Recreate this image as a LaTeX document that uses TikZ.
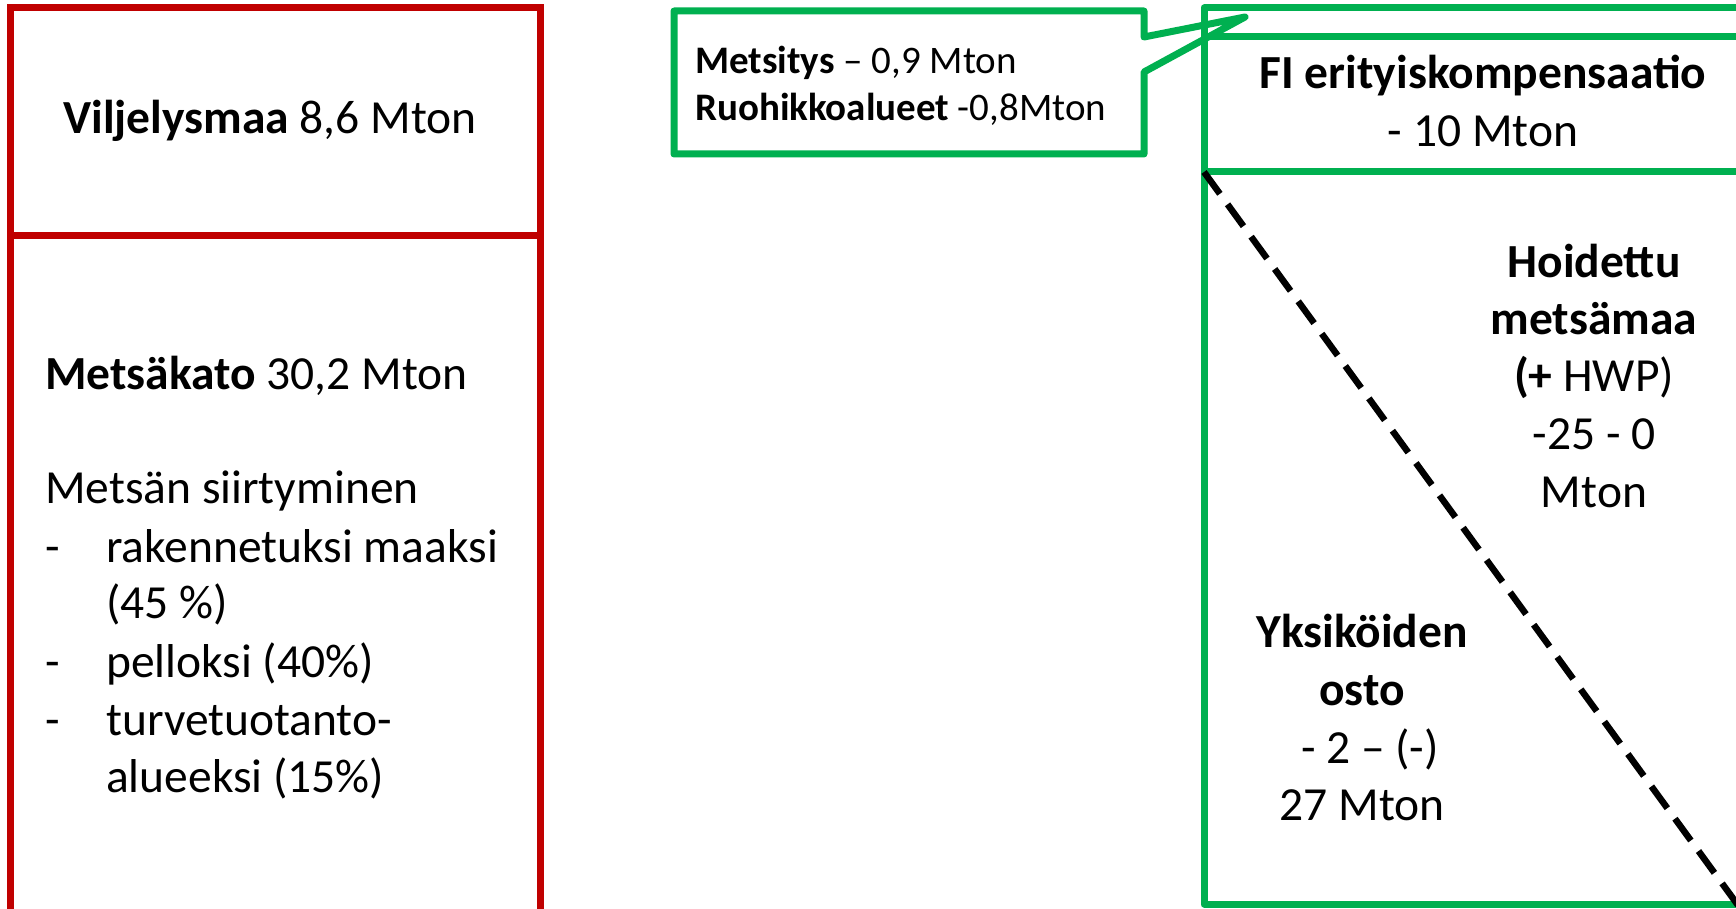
\documentclass[tikz,border=0pt]{standalone}
\usepackage{fontspec}
\setmainfont{Carlito}
\definecolor{redc}{HTML}{C00000}
\definecolor{greenc}{HTML}{00B050}
\begin{document}
\begin{tikzpicture}[x=1pt,y=-1pt,
  redln/.style={draw=redc, line width=7pt},
  grn/.style={draw=greenc, line width=7pt, line join=round},
  big/.style={font=\fontsize{47.5}{57}\selectfont, inner sep=0pt, text height=0.62em, text depth=0.0em},
  small/.style={font=\fontsize{39}{46}\selectfont, inner sep=0pt, text height=0.62em, text depth=0.0em}]
\useasboundingbox (0,0) rectangle (1736,909);
% left red box
\draw[redln] (10,8) rectangle (540,912);
\draw[redln] (10,236) -- (540,236);
\node[big] (vil) at (270,130) {\textbf{Viljelysmaa} 8,6 Mton};
\node[big,anchor=west] (mk) at (45,386) {\textbf{Metsäkato} 30,2 Mton};
\node[big,anchor=west] (ms) at (45,500) {Metsän siirtyminen};
\node[big,anchor=west] (d1) at (45,559) {-};
\node[big,anchor=west] (l1) at (106,559) {rakennetuksi maaksi};
\node[big,anchor=west] (l1b) at (106,615) {(45 \%)};
\node[big,anchor=west] (d2) at (45,674) {-};
\node[big,anchor=west] (l2) at (106,674) {pelloksi (40\%)};
\node[big,anchor=west] (d3) at (45,732) {-};
\node[big,anchor=west] (l3) at (106,732) {turvetuotanto-};
\node[big,anchor=west] (l3b) at (106,789) {alueeksi (15\%)};
% callout
\draw[grn] (674,11) -- (1144,11) -- (1144,37) -- (1245,17) -- (1144,72) -- (1144,154) -- (674,154) -- cycle;
\node[small,anchor=west] (c1) at (695,70) {\textbf{Metsitys} – 0,9 Mton};
\node[small,anchor=west] (c2) at (695,117) {\textbf{Ruohikkoalueet} -0,8Mton};
% right green box
\draw[grn] (1750,8) -- (1204,8) -- (1204,904) -- (1750,904);
\draw[grn] (1204,37) -- (1750,37);
\draw[grn] (1204,172) -- (1750,172);
\draw[line width=6.5pt, dash pattern=on 27pt off 13pt] (1204,172) -- (1740,908);
\node[big] (fi1) at (1483,85) {\textbf{FI erityiskompensaatio}};
\node[big] (fi2) at (1483,143) {- 10 Mton};
\node[big] (h1) at (1594,274) {\textbf{Hoidettu}};
\node[big] (h2) at (1594,331) {\textbf{metsämaa}};
\node[big] (h3) at (1594,388) {\textbf{(+} HWP)};
\node[big] (h4) at (1594,446) {-25 - 0};
\node[big] (h5) at (1594,504) {Mton};
\node[big] (y1) at (1362,644) {\textbf{Yksiköiden}};
\node[big] (y2) at (1362,702) {\textbf{osto}};
\node[big] (y3) at (1370,760) {- 2 – (-)};
\node[big] (y4) at (1362,817) {27 Mton};
\end{tikzpicture}
\end{document}
